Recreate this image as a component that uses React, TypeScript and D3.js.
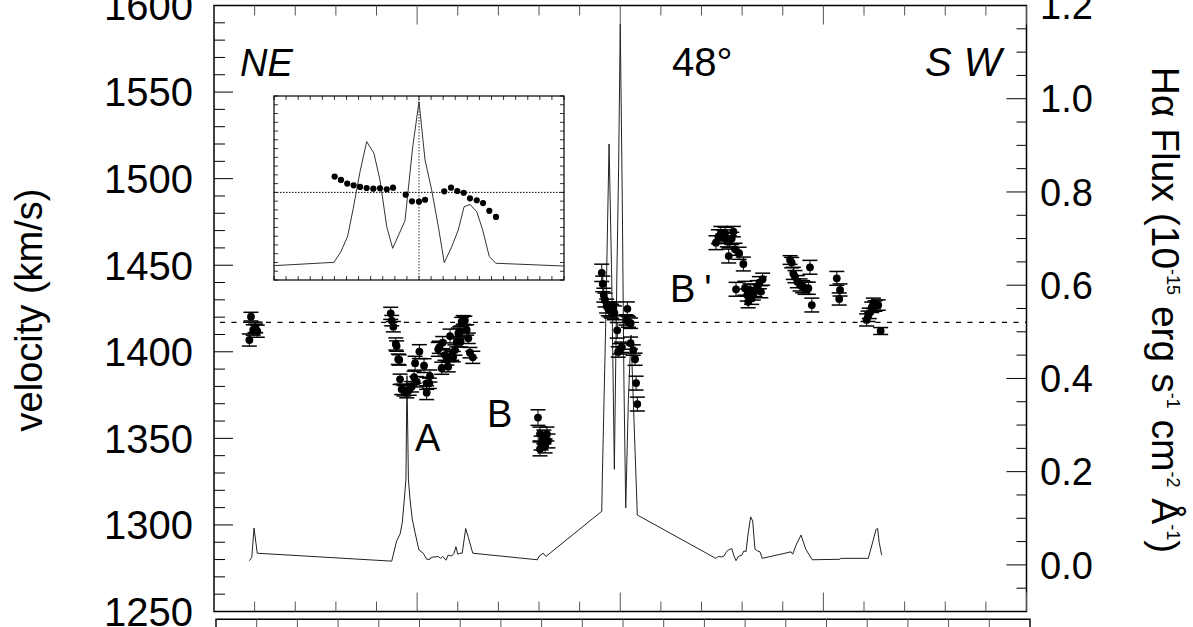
import React from 'react';
import * as d3 from 'd3';

// ---------- data ----------
const posDomain: [number, number] = [-20, 20];
const velDomain: [number, number] = [1250, 1600];
const fluxDomain: [number, number] = [-0.1, 1.2];
const systemicVelocity = 1417;

const velTickValues = [1250, 1300, 1350, 1400, 1450, 1500, 1550, 1600];
const fluxTickValues = [0, 0.2, 0.4, 0.6, 0.8, 1.0, 1.2];

// [position, velocity, error]
const groupNE: [number, number, number][] = [
  [-18.18, 1420.3, 2.5], [-18.26, 1406.8, 3.5], [-17.98, 1414.1, 3], [-17.87, 1411.9, 3.5],
  [-18.07, 1412.6, 3], [-17.95, 1413.5, 2.5],
];
const groupA: [number, number, number][] = [
  [-11.30, 1422.2, 3.5], [-11.25, 1418.0, 3], [-11.17, 1414.5, 3], [-11.05, 1404.5, 3.5],
  [-11.01, 1403.3, 3], [-10.93, 1395.7, 3], [-10.88, 1395.3, 3], [-10.84, 1384.1, 3],
  [-10.76, 1378.3, 3], [-10.65, 1377.5, 3], [-10.51, 1376.4, 3], [-10.39, 1377.9, 3],
  [-10.27, 1379.8, 3], [-10.15, 1385.3, 3.5], [-10.10, 1393.4, 4], [-10.02, 1382.7, 3],
  [-9.89, 1400.1, 4], [-9.66, 1392.0, 4], [-9.53, 1381.8, 3.5], [-9.53, 1376.4, 4],
  [-9.37, 1386.0, 3.5], [-9.40, 1381.8, 3], [-8.96, 1401.4, 4], [-8.91, 1402.6, 3.5],
  [-8.79, 1390.5, 3.5], [-8.74, 1405.3, 3.5], [-8.63, 1398.1, 3], [-8.54, 1395.3, 3],
  [-8.47, 1391.4, 3], [-8.38, 1409.1, 4], [-8.30, 1398.1, 3], [-8.22, 1397.2, 3],
  [-8.14, 1401.0, 3], [-8.05, 1405.8, 3], [-7.97, 1410.7, 3], [-7.89, 1411.6, 3],
  [-7.81, 1417.4, 2.5], [-7.73, 1418.4, 2.5], [-7.65, 1418.0, 2.5], [-7.56, 1412.6, 3],
  [-7.48, 1407.8, 3], [-7.40, 1399.5, 3], [-7.26, 1396.8, 3.5], [-7.86, 1405.8, 3],
];
const groupB: [number, number, number][] = [
  [-4.05, 1362.0, 4.5], [-3.95, 1352.5, 4], [-3.76, 1350.8, 4], [-3.61, 1352.5, 4],
  [-3.90, 1347.3, 4], [-3.70, 1345.6, 4], [-3.95, 1343.9, 4], [-3.56, 1348.5, 4],
];
const groupCentre: [number, number, number][] = [
  [-0.91, 1445.6, 5], [-0.86, 1439.2, 4.5], [-0.81, 1432.7, 4], [-0.75, 1429.9, 4],
  [-0.67, 1426.4, 4], [-0.59, 1424.8, 4], [-0.50, 1424.1, 4], [-0.42, 1423.4, 4],
  [-0.34, 1424.8, 4], [-0.29, 1422.5, 4], [-0.15, 1412.4, 4.5], [-0.10, 1399.9, 3],
  [-0.01, 1401.7, 3], [0.07, 1402.6, 3], [0.35, 1424.8, 4], [0.28, 1418.4, 3],
  [0.40, 1417.2, 3], [0.51, 1416.5, 3], [0.51, 1405.0, 3.5], [0.64, 1401.0, 3],
  [0.73, 1395.7, 3.5], [0.78, 1381.9, 4], [0.84, 1369.8, 4],
];
const groupBprime: [number, number, number][] = [
  [4.71, 1463.0, 4], [4.83, 1466.5, 4], [4.95, 1468.4, 4], [5.07, 1466.9, 3.5],
  [5.16, 1468.4, 3.5], [5.27, 1464.6, 4], [5.37, 1463.6, 3.5], [5.49, 1465.5, 3.5],
  [5.57, 1469.4, 3], [5.34, 1455.3, 4], [5.65, 1459.2, 3.5], [5.85, 1456.9, 3.5],
  [6.06, 1450.7, 4], [5.70, 1436.1, 4], [6.14, 1436.7, 4], [6.25, 1432.8, 3.5],
  [6.30, 1428.9, 3.5], [6.47, 1430.9, 3.5], [6.55, 1433.4, 3.5], [6.63, 1435.3, 3.5],
  [6.75, 1437.6, 3.5], [6.85, 1439.9, 3.5], [6.92, 1434.7, 3.5], [7.01, 1441.9, 3.5],
  [6.39, 1435.7, 3.5],
];
const groupSW1: [number, number, number][] = [
  [8.36, 1453.0, 2.5], [8.44, 1451.5, 3], [8.52, 1445.3, 3.5], [8.60, 1443.4, 3.5],
  [8.72, 1440.5, 3.5], [8.85, 1438.6, 3.5], [8.98, 1437.6, 3.5], [9.10, 1436.7, 3.5],
  [9.26, 1436.7, 3.5], [9.34, 1448.8, 4], [9.43, 1427.0, 4], [10.66, 1442.4, 4],
  [10.82, 1435.7, 3.5], [10.78, 1430.5, 3.5],
];
const groupSW2: [number, number, number][] = [
  [12.13, 1418.4, 3.5], [12.20, 1420.5, 3], [12.26, 1422.2, 3], [12.38, 1425.7, 3],
  [12.46, 1428.0, 3], [12.54, 1426.4, 3], [12.70, 1427.0, 3], [12.82, 1412.0, 2],
];

// H-alpha flux profile along the slit
const fluxPos = [-18.26, -18.14, -18.03, -17.87, -11.25, -11.01, -10.84, -10.73, -10.63, -10.55, -10.50, -10.43, -10.35, -10.24, -10.10, -9.91, -9.70, -9.53, -9.37, -9.32, -8.96, -8.84, -8.74, -8.58, -8.47, -8.30, -8.18, -8.09, -8.00, -7.89, -7.78, -7.61, -7.48, -7.26, -4.08, -3.99, -3.79, -3.66, -0.91, -0.88, -0.72, -0.55, -0.42, -0.29, -0.17, -0.08, 0.00, 0.10, 0.18, 0.27, 0.40, 0.53, 0.64, 0.84, 4.70, 4.83, 4.99, 5.11, 5.21, 5.32, 5.49, 5.60, 5.70, 5.81, 5.98, 6.09, 6.19, 6.30, 6.42, 6.52, 6.63, 6.75, 6.88, 6.99, 8.41, 8.49, 8.64, 8.90, 9.13, 9.45, 10.82, 10.85, 12.21, 12.43, 12.59, 12.67, 12.75, 12.87];
const fluxVal = [0.009, 0.016, 0.079, 0.025, 0.008, 0.051, 0.066, 0.091, 0.141, 0.184, 0.406, 0.184, 0.141, 0.098, 0.069, 0.032, 0.025, 0.012, 0.012, 0.016, 0.018, 0.014, 0.018, 0.010, 0.021, 0.019, 0.025, 0.039, 0.023, 0.025, 0.025, 0.078, 0.059, 0.025, 0.011, 0.019, 0.025, 0.018, 0.115, 0.192, 0.510, 0.903, 0.613, 0.205, 0.613, 0.853, 1.160, 0.784, 0.398, 0.122, 0.355, 0.493, 0.355, 0.107, 0.014, 0.018, 0.017, 0.019, 0.027, 0.032, 0.035, 0.019, 0.009, 0.018, 0.021, 0.030, 0.028, 0.069, 0.103, 0.094, 0.034, 0.030, 0.028, 0.014, 0.028, 0.023, 0.041, 0.064, 0.034, 0.011, 0.012, 0.014, 0.014, 0.049, 0.076, 0.078, 0.048, 0.021];

// inset
const insetPosDomain: [number, number] = [-12, 12];
const insetVelDomain: [number, number] = [1367, 1472];
const insetFluxPos = [-12.0, -7.04, -6.46, -5.90, -5.44, -4.88, -4.33, -3.73, -3.23, -2.67, -2.18, -1.16, -0.52, 0.0, 0.50, 1.05, 1.60, 2.09, 2.71, 3.25, 3.73, 4.22, 4.78, 5.27, 5.82, 6.37, 12.0];
const insetFluxVal = [0.078, 0.096, 0.154, 0.239, 0.390, 0.589, 0.752, 0.689, 0.543, 0.290, 0.172, 0.322, 0.724, 0.969, 0.652, 0.489, 0.290, 0.094, 0.181, 0.272, 0.398, 0.411, 0.371, 0.272, 0.127, 0.091, 0.076];
const insetVelPos = [-6.98, -6.46, -5.94, -5.41, -4.88, -4.33, -3.78, -3.23, -2.67, -2.15, -1.10, -0.58, 0.0, 0.50, 2.09, 2.65, 3.17, 3.70, 4.22, 4.78, 5.30, 5.82, 6.37];
const insetVelVal = [1426.0, 1424.1, 1422.0, 1421.0, 1420.1, 1419.5, 1419.1, 1419.3, 1418.8, 1419.7, 1415.7, 1411.9, 1411.7, 1412.8, 1417.6, 1419.7, 1417.8, 1416.8, 1413.6, 1412.5, 1410.9, 1406.5, 1403.0];

// ---------- layout ----------
const W = 1193, H = 627;
const X0 = 214, X1 = 1026.5, Y0 = 5.5, Y1 = 611.5;
const FONT = "'Liberation Sans', Arial, Helvetica, sans-serif";

export default function App() {
  const x = d3.scaleLinear().domain(posDomain).range([X0, X1]);
  const yV = d3.scaleLinear().domain(velDomain).range([Y1, Y0]);
  const yF = d3.scaleLinear().domain(fluxDomain).range([Y1, Y0]);
  const xLow = d3.scaleLinear().domain(posDomain).range([216, 1030]);

  const ix = d3.scaleLinear().domain(insetPosDomain).range([274, 564]);
  const iv = d3.scaleLinear().domain(insetVelDomain).range([280, 96]);
  const iF = d3.scaleLinear().domain([0, 1]).range([280, 96]);

  const fluxLine = d3.line<number>().x((_, i) => x(fluxPos[i])).y((d) => yF(d));
  const insetLine = d3.line<number>().x((_, i) => ix(insetFluxPos[i])).y((d) => iF(d));

  const allPoints = [...groupNE, ...groupA, ...groupB, ...groupCentre, ...groupBprime, ...groupSW1, ...groupSW2];

  const posTicks = d3.range(-20, 20.001, 2);
  const velMinor = d3.range(1250, 1600.001, 10);
  const fluxMinor = d3.range(-0.1, 1.2001, 0.05);

  const insetXTicks = d3.range(-12, 12.001, 1);
  const insetYTicks = d3.range(1367, 1472.001, 5);

  return (
    <div style={{ position: 'absolute', left: 0, top: 0 }}>
      <svg width={W} height={H} style={{ display: 'block', background: '#fff' }} fontFamily={FONT}>
        {/* flux profile */}
        <path d={fluxLine(fluxVal) || ''} fill="none" stroke="#222" strokeWidth={1} />

        {/* systemic velocity */}
        <line x1={220} x2={X1} y1={yV(systemicVelocity)} y2={yV(systemicVelocity)} stroke="#000" strokeWidth={1.2} strokeDasharray="5,6.5" />

        {/* error bars and points */}
        {allPoints.map(([p, v, e], i) => (
          <g key={i}>
            <line x1={x(p)} x2={x(p)} y1={yV(v - e)} y2={yV(v + e)} stroke="#000" strokeWidth={1} />
            <line x1={x(p) - 7.5} x2={x(p) + 7.5} y1={yV(v + e)} y2={yV(v + e)} stroke="#000" strokeWidth={1.5} />
            <line x1={x(p) - 7.5} x2={x(p) + 7.5} y1={yV(v - e)} y2={yV(v - e)} stroke="#000" strokeWidth={1.5} />
            <circle cx={x(p)} cy={yV(v)} r={3.9} fill="#000" />
          </g>
        ))}

        {/* main frame */}
        <rect x={X0} y={Y0} width={X1 - X0} height={Y1 - Y0} fill="none" stroke="#000" strokeWidth={1.5} />

        {/* bottom & top ticks */}
        {posTicks.map((t, i) => {
          const major = Math.abs(t % 10) < 1e-6;
          const len = major ? 19 : 10;
          return (
            <g key={'pt' + i}>
              <line x1={x(t)} x2={x(t)} y1={Y1} y2={Y1 - len} stroke="#555" strokeWidth={1} />
              <line x1={x(t)} x2={x(t)} y1={Y0} y2={Y0 + len} stroke="#555" strokeWidth={1} />
            </g>
          );
        })}

        {/* left ticks */}
        {velMinor.map((t, i) => {
          const major = Math.abs(t % 50) < 1e-6;
          return <line key={'vl' + i} x1={X0} x2={X0 + (major ? 19 : 11)} y1={yV(t)} y2={yV(t)} stroke="#000" strokeWidth={1} />;
        })}
        {velTickValues.map((t) => (
          <text key={'vt' + t} x={193} y={yV(t)} dy="0.36em" textAnchor="end" fontSize={40} fill="#000">{t}</text>
        ))}

        {/* right ticks */}
        {fluxMinor.map((t, i) => {
          const major = Math.abs(Math.round(t * 100) % 20) < 1e-6;
          return <line key={'fl' + i} x1={X1} x2={X1 - (major ? 20 : 10)} y1={yF(t)} y2={yF(t)} stroke="#000" strokeWidth={1} />;
        })}
        {fluxTickValues.map((t) => (
          <text key={'ft' + t} x={1040} y={yF(t)} dy="0.36em" textAnchor="start" fontSize={38} fill="#000">{t.toFixed(1)}</text>
        ))}

        {/* axis titles */}
        <text transform="translate(42,310) rotate(-90)" textAnchor="middle" fontSize={38} fill="#000">velocity (km/s)</text>
        <text transform="translate(1152,310) rotate(90)" textAnchor="middle" fontSize={39} fill="#000">
          Hα Flux (10<tspan fontSize={18} dy={-15}>-15</tspan>
          <tspan dy={15}> erg s</tspan><tspan fontSize={18} dy={-15}>-1</tspan>
          <tspan dy={15}> cm</tspan><tspan fontSize={18} dy={-15}>-2</tspan>
          <tspan dy={15}> Å</tspan><tspan fontSize={18} dy={-15}>-1</tspan>
          <tspan dy={15}>)</tspan>
        </text>

        {/* annotations */}
        <text x={240} y={76} fontSize={38} fontStyle="italic" fill="#000">NE</text>
        <text x={672} y={76} fontSize={40} fill="#000">48°</text>
        <text x={925} y={76} fontSize={40} fontStyle="italic" fill="#000">S<tspan dx={12}>W</tspan></text>
        <text x={415} y={451} fontSize={38} fill="#000">A</text>
        <text x={487} y={427} fontSize={38} fill="#000">B</text>
        <text x={670} y={302} fontSize={38} fill="#000">B<tspan dx={9}>'</tspan></text>

        {/* inset */}
        <rect x={274} y={96} width={290} height={184} fill="#fff" stroke="#000" strokeWidth={1.2} />
        {insetXTicks.map((t, i) => (
          <g key={'ix' + i}>
            <line x1={ix(t)} x2={ix(t)} y1={280} y2={276} stroke="#000" strokeWidth={0.8} />
            <line x1={ix(t)} x2={ix(t)} y1={96} y2={100} stroke="#000" strokeWidth={0.8} />
          </g>
        ))}
        {insetYTicks.map((t, i) => (
          <g key={'iy' + i}>
            <line x1={274} x2={278} y1={iv(t)} y2={iv(t)} stroke="#000" strokeWidth={0.8} />
            <line x1={564} x2={560} y1={iv(t)} y2={iv(t)} stroke="#000" strokeWidth={0.8} />
          </g>
        ))}
        <line x1={274} x2={564} y1={iv(systemicVelocity)} y2={iv(systemicVelocity)} stroke="#000" strokeWidth={1} strokeDasharray="1.5,1.5" />
        <line x1={ix(0)} x2={ix(0)} y1={96} y2={280} stroke="#000" strokeWidth={0.8} strokeDasharray="1.5,1.5" />
        <path d={insetLine(insetFluxVal) || ''} fill="none" stroke="#333" strokeWidth={1} />
        {insetVelPos.map((p, i) => (
          <circle key={'iv' + i} cx={ix(p)} cy={iv(insetVelVal[i])} r={3.1} fill="#000" />
        ))}

        {/* lower panel (cut off) */}
        <path d={`M216,640 V619.3 H1030 V640`} fill="none" stroke="#000" strokeWidth={1.5} />
        {posTicks.map((t, i) => (
          <line key={'lt' + i} x1={xLow(t)} x2={xLow(t)} y1={619.3} y2={619.3 + (Math.abs(t % 10) < 1e-6 ? 19 : 10)} stroke="#555" strokeWidth={1} />
        ))}
      </svg>
    </div>
  );
}
